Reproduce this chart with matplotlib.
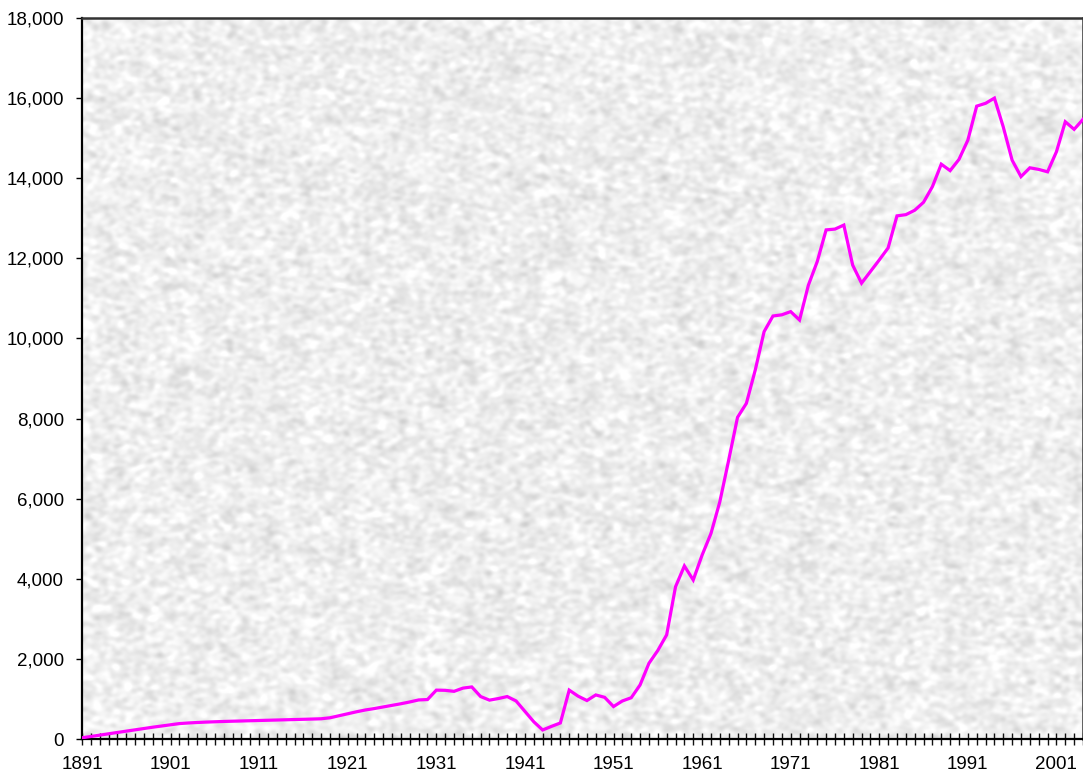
import numpy as np
import matplotlib
matplotlib.use("Agg")
import matplotlib.pyplot as plt
from matplotlib.ticker import FuncFormatter, MultipleLocator

# ---- data ----
years = list(range(1891, 2005))
values = [
    30, 63, 96, 130, 163, 196, 229, 262, 295, 325,            # 1891-1900
    355, 385, 400, 412, 422, 430, 438, 444, 450, 456,         # 1901-1910
    462, 468, 474, 480, 486, 492, 498, 505, 530, 580,         # 1911-1920
    630, 680, 725, 760, 800, 840, 880, 925, 975, 985,         # 1921-1930
    1220, 1215, 1190, 1270, 1300, 1060, 970, 1010, 1060, 950, # 1931-1940
    690, 430, 225, 315, 400, 1220, 1070, 960, 1100, 1040,     # 1941-1950
    810, 950, 1030, 1350, 1890, 2210, 2600, 3800, 4320, 3970, # 1951-1960
    4590, 5130, 5920, 6960, 8030, 8380, 9210, 10170, 10560, 10590,   # 1961-1970
    10670, 10460, 11330, 11920, 12710, 12730, 12830, 11830, 11380, 11670,  # 1971-1980
    11960, 12260, 13060, 13090, 13200, 13400, 13790, 14350, 14190, 14470,  # 1981-1990
    14950, 15800, 15870, 16000, 15280, 14450, 14040, 14260, 14220, 14160,  # 1991-2000
    14660, 15410, 15220, 15470,                                # 2001-2004
]
y_ticks = list(range(0, 18001, 2000))
x_label_years = list(range(1891, 2005, 10))

plt.rcParams['font.family'] = ['Liberation Sans', 'DejaVu Sans']

fig = plt.figure(figsize=(10.83, 7.77), dpi=100)
fig.patch.set_facecolor('white')
ax = fig.add_axes([82 / 1083, 38 / 777, 1001 / 1083, 721 / 777])

# ---- textured grey background (deterministic hash noise, blurred) ----
H, W = 721, 1001
jj, ii = np.meshgrid(np.arange(W), np.arange(H))
n = np.sin(ii * 12.9898 + jj * 78.233) * 43758.5453
n = n - np.floor(n)
fy = np.fft.fftfreq(H)[:, None]
fx = np.fft.fftfreq(W)[None, :]
sig_y, sig_x = 2.0, 2.6
kern = np.exp(-2 * (np.pi ** 2) * ((fy * sig_y) ** 2 + (fx * sig_x) ** 2))
sm = np.real(np.fft.ifft2(np.fft.fft2(n - n.mean()) * kern))
sm = sm / sm.std()
tex = np.clip(0.935 + 0.03 * sm, 0.74, 1.0)
ax.imshow(tex, cmap='gray', vmin=0, vmax=1, extent=[1891, 2004, 0, 18000],
          aspect='auto', interpolation='bilinear', zorder=0)

# ---- line ----
ax.plot(years, values, color='#ff00ff', linewidth=2.3, zorder=3,
        solid_joinstyle='miter')

ax.set_xlim(1891, 2004)
ax.set_ylim(0, 18000)

ax.set_yticks(y_ticks)
ax.yaxis.set_major_formatter(FuncFormatter(lambda v, p: f"{int(v):,}"))
ax.set_xticks(x_label_years)
ax.set_xticklabels([str(y) for y in x_label_years])
ax.xaxis.set_minor_locator(MultipleLocator(1))

ax.tick_params(axis='y', direction='out', length=4, width=1.0, colors='black',
               labelsize=13.5, pad=9)
ax.tick_params(axis='x', which='both', direction='inout', length=8, width=1.0,
               colors='#111111', labelsize=13.5, pad=8)
ax.tick_params(axis='x', which='major', labelcolor='black')

for s in ['left', 'bottom']:
    ax.spines[s].set_color('black')
    ax.spines[s].set_linewidth(1.6)
ax.spines['top'].set_color('#333333')
ax.spines['top'].set_linewidth(1.8)
ax.spines['right'].set_color('#333333')
ax.spines['right'].set_linewidth(1.8)

fig.savefig('out.png', dpi=100, facecolor='white')
